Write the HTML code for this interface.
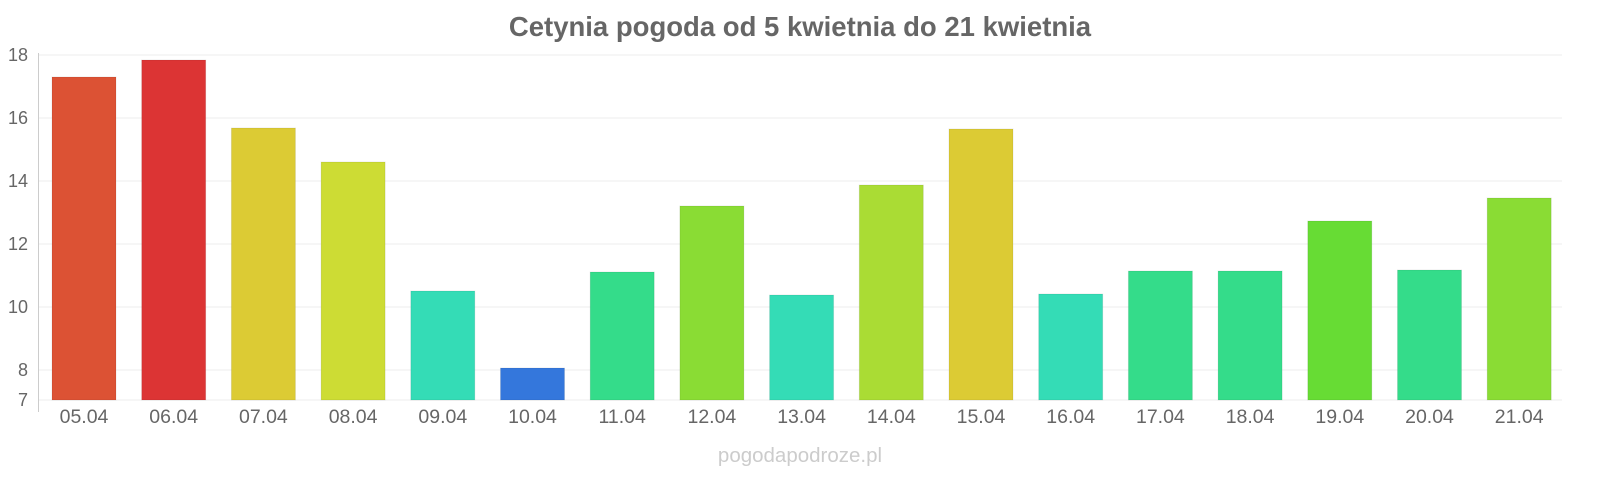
<!DOCTYPE html>
<html><head><meta charset="utf-8"><style>
body{margin:0;background:#fff;width:1600px;height:480px;overflow:hidden;font-family:"Liberation Sans",sans-serif}
</style></head><body>
<svg width="1600" height="480" xmlns="http://www.w3.org/2000/svg" font-family="Liberation Sans, sans-serif">
<text x="800" y="36" text-anchor="middle" font-size="27.5" font-weight="bold" fill="#666">Cetynia pogoda od 5 kwietnia do 21 kwietnia</text>
<g stroke="#eee" stroke-width="1">
<line x1="39" x2="1562" y1="55" y2="55"/><line x1="39" x2="1562" y1="118" y2="118"/><line x1="39" x2="1562" y1="181" y2="181"/><line x1="39" x2="1562" y1="244" y2="244"/><line x1="39" x2="1562" y1="307" y2="307"/><line x1="39" x2="1562" y1="370" y2="370"/><line x1="39" x2="1562" y1="400" y2="400"/>
</g>
<line x1="38.5" x2="38.5" y1="53" y2="412" stroke="#ccc"/>
<g font-size="18" fill="#666" text-anchor="end">
<text x="28" y="61">18</text><text x="28" y="124">16</text><text x="28" y="187">14</text><text x="28" y="250">12</text><text x="28" y="313">10</text><text x="28" y="376">8</text><text x="28" y="406">7</text>
</g>
<g stroke="rgba(0,0,0,0.08)">
<rect x="52" y="77" width="64" height="323" fill="#dc5234"/>
<rect x="141.7" y="60" width="64" height="340" fill="#dc3434"/>
<rect x="231.4" y="128" width="64" height="272" fill="#dccb34"/>
<rect x="321.1" y="162" width="64" height="238" fill="#cddc34"/>
<rect x="410.8" y="291" width="64" height="109" fill="#34dcb6"/>
<rect x="500.5" y="368" width="64" height="32" fill="#3477dc"/>
<rect x="590.2" y="272" width="64" height="128" fill="#34dc8a"/>
<rect x="679.9" y="206" width="64" height="194" fill="#8adc34"/>
<rect x="769.6" y="295" width="64" height="105" fill="#34dcb6"/>
<rect x="859.3" y="185" width="64" height="215" fill="#aadc34"/>
<rect x="949" y="129" width="64" height="271" fill="#dccb34"/>
<rect x="1038.7" y="294" width="64" height="106" fill="#34dcb6"/>
<rect x="1128.4" y="271" width="64" height="129" fill="#34dc8a"/>
<rect x="1218.1" y="271" width="64" height="129" fill="#34dc8a"/>
<rect x="1307.8" y="221" width="64" height="179" fill="#67dc34"/>
<rect x="1397.5" y="270" width="64" height="130" fill="#34dc8a"/>
<rect x="1487.2" y="198" width="64" height="202" fill="#8adc34"/>
</g>
<g font-size="19.5" fill="#666" text-anchor="middle">
<text x="84" y="423">05.04</text><text x="173.7" y="423">06.04</text><text x="263.4" y="423">07.04</text><text x="353.1" y="423">08.04</text><text x="442.8" y="423">09.04</text><text x="532.5" y="423">10.04</text><text x="622.2" y="423">11.04</text><text x="711.9" y="423">12.04</text><text x="801.6" y="423">13.04</text><text x="891.3" y="423">14.04</text><text x="981" y="423">15.04</text><text x="1070.7" y="423">16.04</text><text x="1160.4" y="423">17.04</text><text x="1250.1" y="423">18.04</text><text x="1339.8" y="423">19.04</text><text x="1429.5" y="423">20.04</text><text x="1519.2" y="423">21.04</text>
</g>
<text x="800" y="462" text-anchor="middle" font-size="20.5" fill="#ccc">pogodapodroze.pl</text>
</svg>
</body></html>
